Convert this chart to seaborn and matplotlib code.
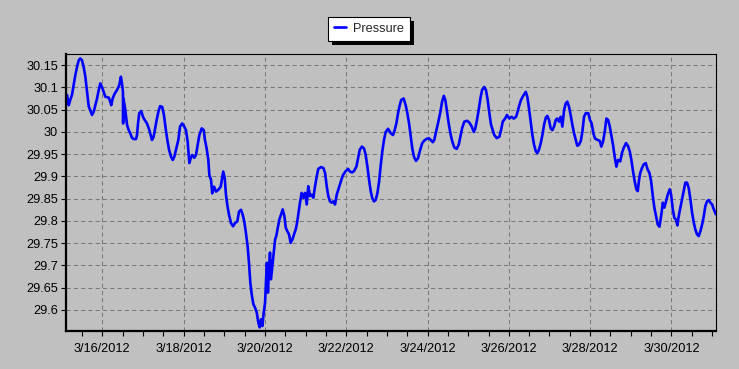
import matplotlib
matplotlib.use("Agg")
import matplotlib.pyplot as plt
import matplotlib.dates as mdates
import matplotlib.ticker as mticker
from matplotlib.patches import Rectangle
import seaborn as sns
import pandas as pd

# ---- data (hours after 2012-03-15 00:00, pressure in inHg) ----
hours = [
    2.4, 3.2, 4.2, 5.1, 6.1, 7.1, 8.1, 9.1, 10.1, 11.0, 12.0, 13.0, 14.0, 15.0, 16.0, 16.9, 17.9, 18.9, 19.9, 20.9,
    21.9, 22.8, 23.8, 24.8, 25.8, 27.8, 28.7, 29.3, 30.1, 31.3, 32.7, 34.0, 35.0, 35.6, 36.2, 36.3, 36.5, 37.6, 38.6, 39.6,
    40.5, 41.5, 42.5, 43.9, 44.5, 45.1, 45.8, 47.0, 48.0, 49.0, 50.4, 51.8, 53.3, 54.3, 55.3, 56.1, 57.1, 58.1, 59.4, 60.4,
    61.4, 62.4, 63.4, 64.6, 65.6, 66.5, 67.5, 68.9, 69.9, 71.2, 72.4, 73.4, 74.4, 75.4, 76.2, 77.1, 78.3, 79.3, 80.3, 81.3,
    82.7, 83.9, 84.6, 85.6, 86.6, 87.2, 88.2, 88.9, 90.0, 91.1, 92.5, 93.9, 94.9, 95.4, 96.3, 97.0, 97.8, 98.8, 100.0, 101.2,
    102.3, 103.7, 104.7, 105.9, 106.9, 107.8, 108.7, 109.8, 110.6, 111.4, 112.2, 113.2, 114.2, 115.2, 116.1, 116.9, 117.7, 118.5, 119.3, 120.1,
    120.7, 121.2, 121.8, 122.4, 123.0, 123.6, 124.4, 125.2, 126.0, 126.7, 127.6, 128.5, 129.5, 130.5, 131.5, 132.3, 133.2, 134.2, 135.2, 136.2,
    137.2, 138.2, 139.0, 139.7, 140.7, 141.7, 142.7, 143.7, 144.7, 145.6, 146.6, 147.6, 148.6, 149.6, 150.6, 151.5, 153.1, 154.5, 155.5, 156.5,
    157.4, 158.4, 159.4, 160.4, 161.4, 162.4, 163.3, 164.2, 165.1, 166.1, 167.5, 169.1, 170.2, 171.4, 172.6, 174.0, 175.0, 176.0, 177.3, 178.5,
    179.5, 180.5, 181.5, 182.5, 183.4, 184.4, 185.4, 186.4, 187.4, 188.4, 189.3, 190.3, 191.3, 192.7, 194.3, 195.6, 196.6, 197.6, 198.6, 199.6,
    200.5, 201.9, 203.1, 204.1, 205.1, 206.1, 207.0, 208.0, 209.2, 210.4, 211.4, 212.8, 213.9, 215.3, 216.7, 217.9, 219.1, 220.0, 221.0, 222.4,
    223.6, 224.6, 225.6, 226.5, 227.5, 228.5, 229.5, 230.5, 231.8, 233.2, 234.4, 235.4, 236.4, 237.7, 239.3, 240.7, 242.1, 243.3, 244.2, 245.2,
    246.2, 247.2, 248.2, 249.5, 250.5, 251.5, 252.5, 253.5, 254.5, 255.4, 256.9, 258.4, 259.4, 260.4, 261.8, 262.9, 264.3, 265.7, 266.9, 268.3,
    269.3, 270.2, 271.2, 272.8, 274.0, 274.9, 275.9, 276.9, 277.9, 278.9, 279.9, 280.8, 281.8, 282.8, 283.8, 284.8, 285.8, 286.7, 287.7, 288.7,
    289.7, 290.7, 291.7, 292.6, 293.6, 294.6, 295.6, 296.6, 297.6, 298.5, 299.5, 300.5, 301.5, 302.5, 303.5, 304.4, 305.4, 306.5, 307.4, 308.4,
    309.4, 310.9, 311.9, 312.9, 313.9, 314.9, 316.3, 317.7, 318.6, 319.6, 320.6, 321.6, 322.6, 323.6, 324.5, 325.5, 326.5, 327.5, 328.5, 329.8,
    330.8, 331.8, 333.2, 334.4, 335.4, 336.3, 337.3, 338.3, 339.3, 340.1, 340.9, 341.6, 342.6, 343.6, 344.8, 346.0, 347.0, 348.0, 349.0, 349.9,
    350.9, 351.9, 352.9, 353.9, 354.9, 355.8, 356.8, 357.8, 359.0, 359.8, 360.8, 361.7, 362.7, 363.5, 364.3, 365.3, 366.3, 367.3, 368.2, 369.2,
    370.2, 371.2, 372.2, 373.2, 374.1, 375.1, 376.1, 377.1, 378.1, 379.1, 380.0, 381.0, 382.0, 383.0, 384.0, 385.0, 386.2,
]
pressure = [
    30.075, 30.083, 30.060, 30.072, 30.083, 30.105, 30.128, 30.146, 30.161, 30.165, 30.161, 30.146, 30.124, 30.090, 30.057, 30.049, 30.038, 30.045, 30.060, 30.075,
    30.094, 30.109, 30.101, 30.090, 30.079, 30.077, 30.068, 30.060, 30.075, 30.086, 30.094, 30.105, 30.124, 30.109, 30.090, 30.019, 30.075, 30.049, 30.016, 30.004,
    29.997, 29.987, 29.984, 29.984, 29.993, 30.019, 30.042, 30.047, 30.034, 30.027, 30.019, 30.004, 29.982, 29.989, 30.010, 30.027, 30.045, 30.058, 30.056, 30.038,
    30.008, 29.982, 29.960, 29.944, 29.937, 29.944, 29.960, 29.982, 30.012, 30.019, 30.012, 30.004, 29.978, 29.930, 29.941, 29.948, 29.942, 29.948, 29.971, 29.993,
    30.008, 30.004, 29.982, 29.963, 29.937, 29.903, 29.892, 29.862, 29.877, 29.866, 29.870, 29.877, 29.900, 29.911, 29.896, 29.859, 29.836, 29.814, 29.795, 29.788,
    29.795, 29.799, 29.821, 29.825, 29.814, 29.799, 29.776, 29.743, 29.706, 29.661, 29.635, 29.613, 29.605, 29.594, 29.572, 29.561, 29.579, 29.564, 29.594, 29.617,
    29.669, 29.706, 29.639, 29.691, 29.729, 29.669, 29.699, 29.729, 29.758, 29.766, 29.785, 29.803, 29.814, 29.826, 29.811, 29.785, 29.777, 29.770, 29.751, 29.758,
    29.770, 29.781, 29.796, 29.814, 29.841, 29.863, 29.852, 29.863, 29.837, 29.878, 29.856, 29.859, 29.852, 29.878, 29.900, 29.917, 29.921, 29.919, 29.908, 29.878,
    29.856, 29.844, 29.841, 29.844, 29.837, 29.859, 29.870, 29.881, 29.892, 29.903, 29.911, 29.917, 29.911, 29.909, 29.912, 29.922, 29.941, 29.960, 29.967, 29.963,
    29.948, 29.922, 29.892, 29.866, 29.851, 29.844, 29.847, 29.862, 29.888, 29.926, 29.956, 29.982, 30.000, 30.007, 29.997, 29.993, 30.004, 30.019, 30.042, 30.060,
    30.072, 30.075, 30.060, 30.042, 30.019, 29.989, 29.963, 29.944, 29.935, 29.941, 29.956, 29.974, 29.980, 29.984, 29.986, 29.982, 29.977, 29.982, 30.000, 30.023,
    30.045, 30.068, 30.081, 30.072, 30.045, 30.019, 29.997, 29.980, 29.965, 29.962, 29.971, 29.989, 30.008, 30.023, 30.025, 30.021, 30.012, 30.000, 30.008, 30.027,
    30.049, 30.075, 30.094, 30.101, 30.094, 30.072, 30.042, 30.016, 30.004, 29.993, 29.986, 29.989, 30.004, 30.023, 30.030, 30.038, 30.030, 30.034, 30.030, 30.034,
    30.047, 30.060, 30.072, 30.083, 30.090, 30.079, 30.053, 30.023, 29.993, 29.971, 29.957, 29.952, 29.960, 29.974, 29.993, 30.016, 30.032, 30.036, 30.027, 30.008,
    30.004, 30.012, 30.027, 30.030, 30.023, 30.034, 30.012, 30.049, 30.064, 30.068, 30.057, 30.038, 30.016, 29.997, 29.982, 29.969, 29.971, 29.980, 30.000, 30.034,
    30.042, 30.042, 30.027, 30.019, 29.997, 29.985, 29.982, 29.980, 29.967, 29.978, 30.000, 30.030, 30.027, 30.012, 29.993, 29.971, 29.944, 29.922, 29.937, 29.934,
    29.953, 29.964, 29.975, 29.968, 29.956, 29.938, 29.912, 29.889, 29.871, 29.867, 29.893, 29.908, 29.919, 29.927, 29.930, 29.915, 29.908, 29.889, 29.856, 29.830,
    29.811, 29.792, 29.787, 29.811, 29.841, 29.830, 29.844, 29.859, 29.871, 29.859, 29.826, 29.807, 29.803, 29.790, 29.811, 29.830, 29.848, 29.867, 29.886, 29.886,
    29.874, 29.848, 29.818, 29.796, 29.781, 29.770, 29.766, 29.777, 29.792, 29.811, 29.833, 29.844, 29.847, 29.841, 29.837, 29.826, 29.815,
]
series_name = "Pressure"
start_time = "2012-03-15 00:00"
x_tick_days = [16, 18, 20, 22, 24, 26, 28, 30]

df = pd.DataFrame({
    "time": pd.Timestamp(start_time) + pd.to_timedelta(hours, unit="h"),
    series_name: pressure,
})

# ---- style ----
sns.set_style("ticks")
plt.rcParams["font.family"] = ["Liberation Sans", "DejaVu Sans"]
plt.rcParams["font.size"] = 9.2

BG = "#C0C0C0"
fig = plt.figure(figsize=(7.39, 3.69), dpi=100, facecolor=BG)
ax = fig.add_axes([65.7 / 739, 1 - 330.7 / 369, (716 - 65.7) / 739, (330.7 - 54) / 369])
ax.set_facecolor(BG)

sns.lineplot(data=df, x="time", y=series_name, ax=ax, color="#0000FF",
             linewidth=1.9, label=series_name, legend=False)

t0 = pd.Timestamp(start_time)
ax.set_xlim(t0 + pd.Timedelta(hours=2.4), t0 + pd.Timedelta(hours=386.3))
ax.set_ylim(29.5535, 30.175)

ax.xaxis.set_major_locator(mdates.DayLocator(bymonthday=x_tick_days))
ax.xaxis.set_minor_locator(mdates.HourLocator(byhour=[0, 12]))
ax.xaxis.set_major_formatter(mticker.FuncFormatter(
    lambda v, p: (lambda d: f"{d.month}/{d.day}/{d.year}")(mdates.num2date(v))))
ax.yaxis.set_major_locator(mticker.MultipleLocator(0.05))
ax.yaxis.set_major_formatter(mticker.FuncFormatter(lambda v, p: f"{round(v, 2):g}"))

ax.set_xlabel("")
ax.set_ylabel("")
ax.tick_params(axis="both", which="both", direction="out", length=3.5, width=0.8,
               colors="black", labelsize=9.2, pad=2)
ax.tick_params(axis="x", which="both", pad=5)

ax.grid(True, which="major", color="#7A7A7A", linestyle=(0, (4, 3)), linewidth=0.75)
ax.set_axisbelow(True)

for side in ["left", "bottom"]:
    ax.spines[side].set_linewidth(1.6)
for side in ["top", "right"]:
    ax.spines[side].set_linewidth(0.8)
for s in ax.spines.values():
    s.set_color("black")
    s.set_visible(True)

handles, labels = ax.get_legend_handles_labels()
leg = fig.legend(handles, labels, loc="upper center",
                 bbox_to_anchor=(369 / 739, 1 - 17 / 369), borderaxespad=0,
                 frameon=True, fancybox=False, framealpha=1, facecolor="white",
                 edgecolor="black", handlelength=1.0, handletextpad=0.55,
                 borderpad=0.45, fontsize=9.2)
leg.get_frame().set_linewidth(0.8)
for line in leg.get_lines():
    line.set_linewidth(1.9)

fig.canvas.draw()
bb = leg.get_window_extent()
inv = fig.transFigure.inverted()
(x0, y0) = inv.transform((bb.x0 + 4, bb.y0 - 4))
(x1, y1) = inv.transform((bb.x1 + 4, bb.y1 - 4))
shadow = Rectangle((x0, y0), x1 - x0, y1 - y0, transform=fig.transFigure,
                   facecolor="black", edgecolor="none", zorder=leg.get_zorder() - 1)
fig.add_artist(shadow)

fig.savefig("out.png", dpi=100, facecolor=BG)
